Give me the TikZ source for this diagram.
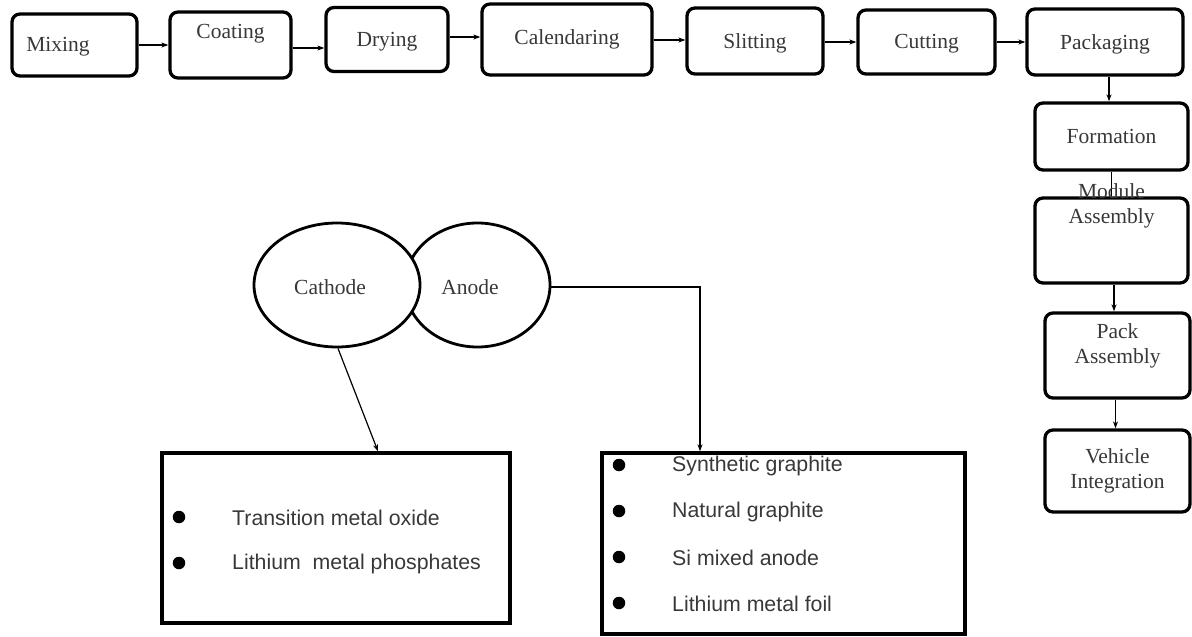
\documentclass[tikz,border=0pt]{standalone}
\usepackage{fontspec}
\setmainfont{Liberation Serif}
\newfontfamily\arialf{Liberation Sans}
\usetikzlibrary{arrows.meta,shapes.geometric}
\tikzset{
  stepbox/.style={draw=black, line width=3.3pt, rounded corners=8pt, inner sep=0pt,
    font=\fontsize{21.5}{25}\selectfont, text=black!78, align=center},
  txt/.style={inner sep=0pt, font=\fontsize{21.5}{25}\selectfont, text=black!78, align=center},
  oval/.style={draw=black, line width=2.8pt, ellipse, fill=white, inner sep=0pt,
    font=\fontsize{21.5}{25}\selectfont, text=black!78},
  listbox/.style={draw=black, line width=3.3pt, inner sep=0pt},
  item/.style={inner sep=0pt, anchor=west, font=\arialf\fontsize{21.3}{24}\selectfont, text=black!78},
  dot/.style={circle, fill=black, inner sep=0pt, minimum size=12.5pt},
  arr/.style={line width=1.2pt, -{Stealth[length=7pt,width=5pt]}},
  ln/.style={line width=1.2pt}
}
\begin{document}
\begin{tikzpicture}[x=1pt,y=-1pt]
\useasboundingbox (0,0) rectangle (1192,637);
% top row
\node[stepbox, minimum width=125pt, minimum height=62pt] (mix) at (74.5,45) {};
\node[txt] (mixt) at (58,47) {Mixing};
\node[stepbox, minimum width=121pt, minimum height=66pt] (coat) at (230.5,45) {};
\node[txt] (coatt) at (230.5,34) {Coating};
\node[stepbox, minimum width=122pt, minimum height=64pt] (dry) at (387,39.5) {};
\node[txt] (dryt) at (387,42) {Drying};
\node[stepbox, minimum width=170pt, minimum height=71pt] (cal) at (567,39.5) {Calendaring};
\node[stepbox, minimum width=136pt, minimum height=66pt] (slit) at (755,41) {};
\node[txt] (slitt) at (755,43) {Slitting};
\node[stepbox, minimum width=137pt, minimum height=64pt] (cut) at (926.5,42) {};
\node[txt] (cutt) at (926.5,44) {Cutting};
\node[stepbox, minimum width=156pt, minimum height=66pt] (packg) at (1105,42) {};
\node[txt] (packgt) at (1105,44) {Packaging};
% right column
\node[stepbox, minimum width=153pt, minimum height=67pt] (form) at (1111.5,136.5) {Formation};
\node[stepbox, minimum width=153pt, minimum height=85pt] (modb) at (1111.5,240.5) {};
\node[stepbox, minimum width=145pt, minimum height=85pt] (packb) at (1117.5,355.5) {};
\node[stepbox, minimum width=145pt, minimum height=82pt] (veh) at (1117.5,471) {Vehicle\\Integration};
% top arrows
\draw[arr] (mix.east) -- (mix.east -| coat.west);
\draw[arr] ([yshift=-3pt]coat.east) -- ([yshift=-3pt]coat.east -| dry.west);
\draw[arr] ([yshift=2.5pt]dry.east) -- ([yshift=2.5pt]dry.east -| cal.west);
\draw[arr] ([yshift=-0.5pt]cal.east) -- ([yshift=-0.5pt]cal.east -| slit.west);
\draw[arr] ([yshift=-1pt]slit.east) -- ([yshift=-1pt]slit.east -| cut.west);
\draw[arr] (cut.east) -- (cut.east -| packg.west);
% column arrows
\draw[arr] ([xshift=4pt]packg.south) -- ([xshift=4pt]packg.south |- form.north);
\draw[ln] (form.south) -- (form.south |- modb.north);
\draw[arr] ([xshift=2.5pt]modb.south) -- ([xshift=2.5pt]modb.south |- packb.north);
\draw[arr] ([xshift=-2pt]packb.south) -- ([xshift=-2pt]packb.south |- veh.north);
\node[txt] (modt) at (1111.5,205.5) {Module\\Assembly};
\node[txt] (packt) at (1117.5,345.5) {Pack\\Assembly};
% ellipses
\node[oval, minimum width=145pt, minimum height=124pt] (anode) at (477.5,285) {};
\node[oval, minimum width=166pt, minimum height=124pt] (cath) at (337,285) {};
\node[txt] (catht) at (330,287) {Cathode};
\node[txt] (anodet) at (470,287) {Anode};
% list boxes
\node[listbox, minimum width=348pt, minimum height=170pt] (cbox) at (336,538) {};
\node[listbox, minimum width=363pt, minimum height=181pt] (abox) at (783.5,543.5) {};
\draw[arr] ([xshift=1pt]cath.south) -- ([xshift=42pt]cbox.north);
\draw[arr] ([yshift=-2pt]anode.east) -| ([xshift=-83.5pt]abox.north);
% cathode items
\node[dot] (cd1) at (179,517) {};
\node[dot] (cd2) at (179,563) {};
\node[item] (ci1) at (232,518) {Transition metal oxide};
\node[item] (ci2) at (232,564) {Lithium\ \ metal phosphates};
% anode items
\node[dot] (ad1) at (619,465) {};
\node[dot] (ad2) at (619,511) {};
\node[dot] (ad3) at (619,557) {};
\node[dot] (ad4) at (619,603) {};
\node[item] (ai1) at (672,466) {Synthetic graphite};
\node[item] (ai2) at (672,512) {Natural graphite};
\node[item] (ai3) at (672,558) {Si mixed anode};
\node[item] (ai4) at (672,604) {Lithium metal foil};
\end{tikzpicture}
\end{document}
